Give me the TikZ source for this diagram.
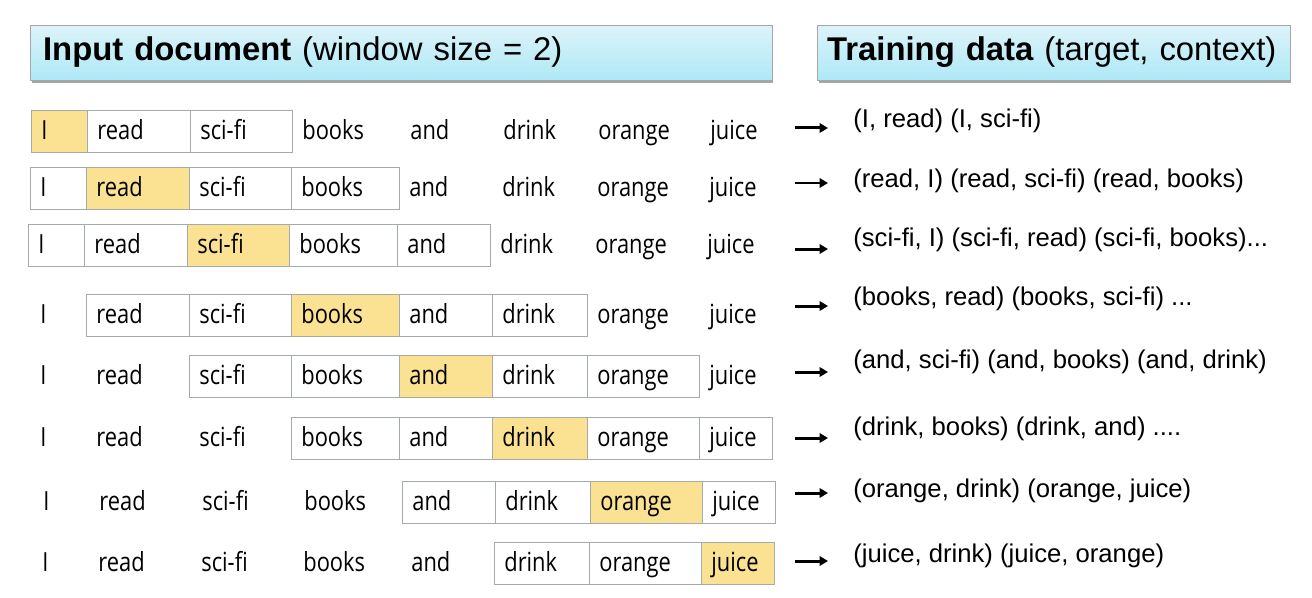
\documentclass[tikz,border=0pt]{standalone}
\usepackage{fontspec}
\setmainfont{Liberation Sans}
\newfontfamily\wordfont{Open Sans}[FakeStretch=0.83]
\usepackage{xcolor}
\usepackage{tikz}
\usetikzlibrary{arrows.meta, shadows}

\definecolor{hlyellow}{HTML}{FAE292}
\definecolor{cellgray}{HTML}{A3ABAD}
\definecolor{headtop}{HTML}{DDF3F8}
\definecolor{headbot}{HTML}{AEE9F7}

\begin{document}
\begin{tikzpicture}[x=0.02cm, y=-0.02cm,
        header/.style={rectangle, draw=gray!70, top color=headtop, bottom color=headbot, minimum height=1.1cm, inner xsep=0.26cm, align=left, font={\fontsize{18.7}{22}\selectfont}, drop shadow={shadow xshift=0.03cm, shadow yshift=-0.06cm, opacity=0.35, fill=black}},
        word/.style={rectangle, anchor=west, minimum height=0.84cm, inner xsep=0.2cm, inner ysep=0pt, text height=0.34cm, text depth=0pt, align=left, font={\wordfont\fontsize{15}{18}\selectfont}},
        cell/.style={word, draw=cellgray, fill=white},
        target/.style={cell, fill=hlyellow},
        pair/.style={anchor=base west, inner sep=0pt, font={\fontsize{14.6}{17}\selectfont}},
        arrow/.style={line width=0.06cm, -{Triangle[length=0.17cm, width=0.19cm]}, shorten >=0.5cm}
    ]
        \useasboundingbox (0,0) rectangle (1312,598);
        % Headers
        \node (inhead) [header, text width=14.32cm] at (401, 52.5) {\textbf{Input document} (window size = 2)};
        \node (trhead) [header, text width=9.06cm, inner xsep=0.2cm] at (1053.5, 52.5) {\textbf{Training data} (target, context)};
        % Sentence, one row per target word (window of 2 on each side)
        \foreach \row/\ypos/\dx/\first/\last/\tgt in {1/131/1/1/3/1, 2/188/0/1/4/2, 3/245/-2/1/5/3, 4/315/0/2/6/4, 5/376/0/3/7/5, 6/438/0/4/8/6, 7/502/3/5/8/7, 8/563/2/6/8/8}
            \foreach \col/\xpos/\wid/\word in {1/30/56/I, 2/86/103/read, 3/189/102/sci-fi, 4/291/108/books, 5/399/93/and, 6/492/95/drink, 7/587/112/orange, 8/699/73/juice} {
                \ifnum\col<\first \def\sty{word}\else\ifnum\col>\last \def\sty{word}\else\ifnum\col=\tgt \def\sty{target}\else\def\sty{cell}\fi\fi\fi
                \node (w\row-\col) [\sty, text width={(\wid-20)*0.02cm}] at (\xpos+\dx, \ypos) {\word};
            }
        % Training pairs
        \foreach \row/\ay/\py/\pairs in {1/128/127.5/{(I, read) (I, sci-fi)}, 2/183/187.5/{(read, I) (read, sci-fi) (read, books)}, 3/249/246.5/{(sci-fi, I) (sci-fi, read) (sci-fi, books)...}, 4/306/305.5/{(books, read) (books, sci-fi) ...}, 5/372/368.5/{(and, sci-fi) (and, books) (and, drink)}, 6/438/435.5/{(drink, books) (drink, and) ....}, 7/493/497.5/{(orange, drink) (orange, juice)}, 8/561/562.5/{(juice, drink) (juice, orange)}} {
            \node (p\row) [pair] at (853, \py) {\pairs};
            \coordinate (a\row) at (795, \ay);
            \draw [arrow] (a\row) -- (a\row -| p\row.west);
        }
    \end{tikzpicture}
\end{document}
